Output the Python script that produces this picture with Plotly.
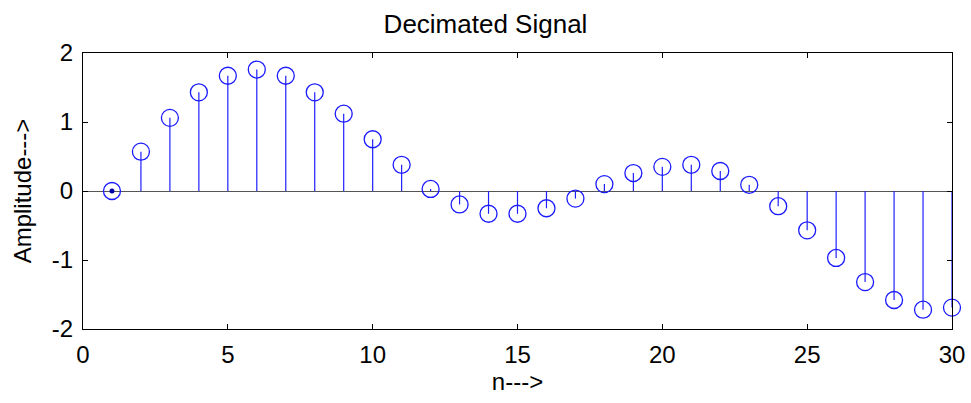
import plotly.graph_objects as go

n = list(range(1, 31))
amplitude = [0.0, 0.57, 1.06, 1.43, 1.67, 1.76, 1.67, 1.43, 1.12, 0.75,
             0.38, 0.03, -0.195, -0.33, -0.33, -0.25, -0.11, 0.10, 0.26, 0.35,
             0.38, 0.29, 0.09, -0.22, -0.57, -0.97, -1.32, -1.58, -1.72, -1.69]
x_ticks = [0, 5, 10, 15, 20, 25, 30]
y_ticks = [-2, -1, 0, 1, 2]
y_tick_labels = ["-2", "-1", "0", "1", "2"]

stem_x, stem_y = [], []
for xi, yi in zip(n, amplitude):
    stem_x += [xi, xi, None]
    stem_y += [0, yi, None]

FONT = "Liberation Sans, Arial, sans-serif"

fig = go.Figure()
fig.add_trace(go.Scatter(x=stem_x, y=stem_y, mode="lines",
                         line=dict(color="#2020ff", width=1.2),
                         hoverinfo="skip", showlegend=False, cliponaxis=False))
fig.add_trace(go.Scatter(x=n, y=amplitude, mode="markers",
                         marker=dict(symbol="circle-open", size=17,
                                     color="#1a1aff", line=dict(width=1.3)),
                         showlegend=False, cliponaxis=False))
fig.add_trace(go.Scatter(x=n[:1], y=amplitude[:1], mode="markers",
                         marker=dict(symbol="circle", size=5, color="#0000aa"),
                         showlegend=False, cliponaxis=False))

axis_common = dict(showline=True, linecolor="black", linewidth=1, mirror="ticks",
                   ticks="inside", ticklen=5, tickcolor="black", showgrid=False,
                   automargin=False,
                   tickfont=dict(family=FONT, size=24, color="black"))

fig.update_layout(
    width=971, height=403,
    margin=dict(l=83, r=19, t=53, b=74),
    paper_bgcolor="white", plot_bgcolor="white",
    title=dict(text="Decimated Signal", x=0.5, xanchor="center", y=0.94, yanchor="middle",
               font=dict(family=FONT, size=26, color="black"), automargin=False),
    xaxis=dict(range=[0, 30], tickvals=x_ticks, zeroline=False, ticklabelstandoff=4,
               title=dict(text="n--->", font=dict(family=FONT, size=24, color="black"), standoff=6),
               **axis_common),
    yaxis=dict(range=[-2, 2], tickvals=y_ticks, ticktext=y_tick_labels, zeroline=True,
               zerolinecolor="#555555", zerolinewidth=1, ticklabelstandoff=4,
               title=dict(text="Amplitude--->", font=dict(family=FONT, size=24, color="black"), standoff=13),
               **axis_common),
)

fig.write_html("out.html")
